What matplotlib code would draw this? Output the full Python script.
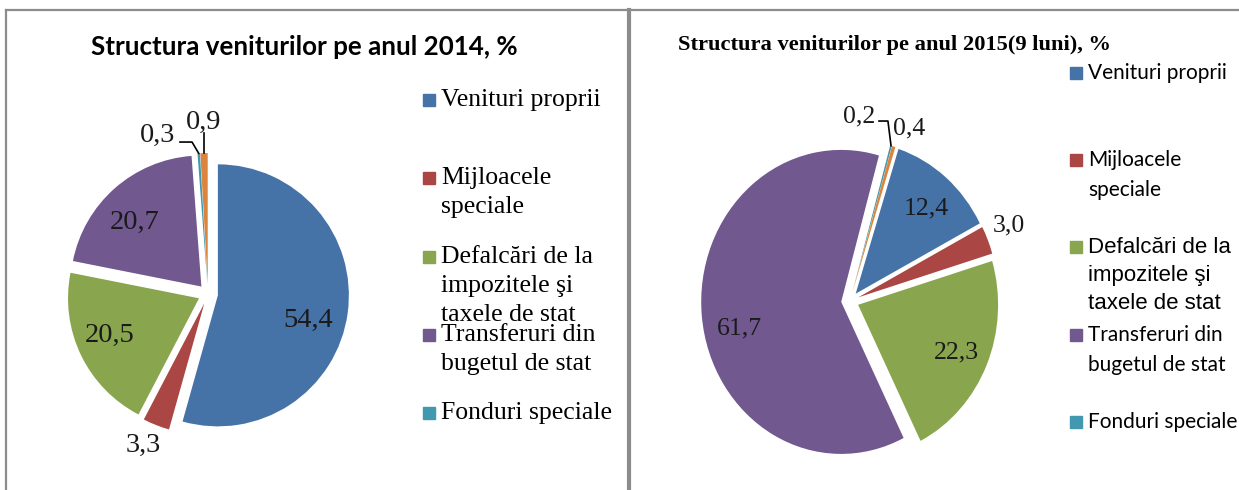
import matplotlib.pyplot as plt
import numpy as np
from matplotlib.patches import Rectangle

# date
legenda = ['Venituri proprii', 'Mijloacele\nspeciale',
           'Defalcări de la\nimpozitele şi\ntaxele de stat',
           'Transferuri din\nbugetul de stat', 'Fonduri speciale']
val_2014 = [54.4, 3.3, 20.5, 20.7, 0.3, 0.9]
val_2015 = [12.4, 3.0, 22.3, 61.7, 0.2, 0.4]
culori = ['#4572A7', '#AA4643', '#89A54E', '#71588F', '#4198AF', '#DB843D']
titlu_2014 = 'Structura veniturilor pe anul 2014, %'
titlu_2015 = 'Structura veniturilor pe anul 2015(9 luni), %'

W, H = 1239, 490
fig = plt.figure(figsize=(W / 100, H / 100), dpi=100)

bg = fig.add_axes([0, 0, 1, 1])
bg.set_xlim(0, W)
bg.set_ylim(H, 0)
bg.axis('off')

# chenare
gri = '#8c8c8c'
bg.plot([6, W], [10, 10], color=gri, lw=1.6)
bg.plot([6, 6], [10, H], color=gri, lw=1.6)
bg.plot([629, 629], [10, H], color=gri, lw=3)


def fmt(v):
    return ('%.1f' % v).replace('.', ',')


def pie_ax(cx, cy, rx, ry, vals, start, expl):
    k = 1.7
    ax = fig.add_axes([(cx - k * rx) / W, (H - cy - k * ry) / H,
                       2 * k * rx / W, 2 * k * ry / H])
    wedges, _ = ax.pie(vals, colors=culori, startangle=start, counterclock=False,
                       explode=[expl] * len(vals), wedgeprops=dict(linewidth=0))
    ax.set_aspect('auto')
    ax.set_xlim(-k, k)
    ax.set_ylim(-k, k)
    ax.axis('off')
    return ax, wedges


def outer(w):
    t = np.radians((w.theta1 + w.theta2) / 2)
    return w.center[0] + w.r * np.cos(t), w.center[1] + w.r * np.sin(t)


# 2014
ax1, w1 = pie_ax(208, 294, 131, 131, val_2014, 90, 0.076)
pos1 = [(0.763, -0.198), (-0.496, -1.153), (-0.748, -0.313),
        (-0.557, 0.550), (-0.385, 1.214), (-0.031, 1.313)]
for v, (x, y) in zip(val_2014, pos1):
    ax1.text(x, y, fmt(v), ha='center', va='center', fontsize=20.5,
             family='Liberation Serif', color='#1a1a1a')
ex, ey = outer(w1[4])
ax1.plot([-0.214, -0.122, ex], [1.160, 1.160, ey], color='black', lw=1.2, clip_on=False)
ex, ey = outer(w1[5])
ax1.plot([ex, ex], [1.229, ey], color='black', lw=1.2, clip_on=False)

# 2015
ax2, w2 = pie_ax(850, 301, 140, 152, val_2015, 72.2, 0.063)
pos2 = [(0.543, 0.612), (1.136, 0.5), (0.757, -0.336),
        (-0.793, -0.178), (0.064, 1.211), (0.421, 1.138)]
for v, (x, y) in zip(val_2015, pos2):
    ax2.text(x, y, fmt(v), ha='center', va='center', fontsize=18.5,
             family='Liberation Serif', color='#1a1a1a')
ex, ey = outer(w2[4])
ax2.plot([0.207, 0.271, ex], [1.184, 1.184, ey], color='black', lw=1.2, clip_on=False)

# titluri
bg.text(304, 47, titlu_2014, ha='center', va='center', fontsize=18.7,
        family='Lato', weight='bold')
bg.text(895, 45, titlu_2015, ha='center', va='center', fontsize=16.2,
        family='Liberation Serif', weight='bold')

# legende
y1 = [100, 178, 257, 335, 413]
for lab, c, y in zip(legenda, culori, y1):
    bg.add_patch(Rectangle((423, y - 6), 12, 12, color=c))
    for i, line in enumerate(lab.split('\n')):
        bg.text(441, y + i * 29, line, ha='left', va='center', fontsize=18.5,
                family='Liberation Serif')

y2 = [73, 160, 247, 335, 422]
for j, (lab, c, y) in enumerate(zip(legenda, culori, y2)):
    bg.add_patch(Rectangle((1070, y - 6), 12, 12, color=c))
    fam, fs = ('Liberation Sans', 16) if j == 2 else ('Lato', 15)
    for i, line in enumerate(lab.split('\n')):
        bg.text(1088, y + i * (28 if j == 2 else 30), line, ha='left', va='center',
                fontsize=fs, family=fam)

fig.savefig('out.png', dpi=100)
